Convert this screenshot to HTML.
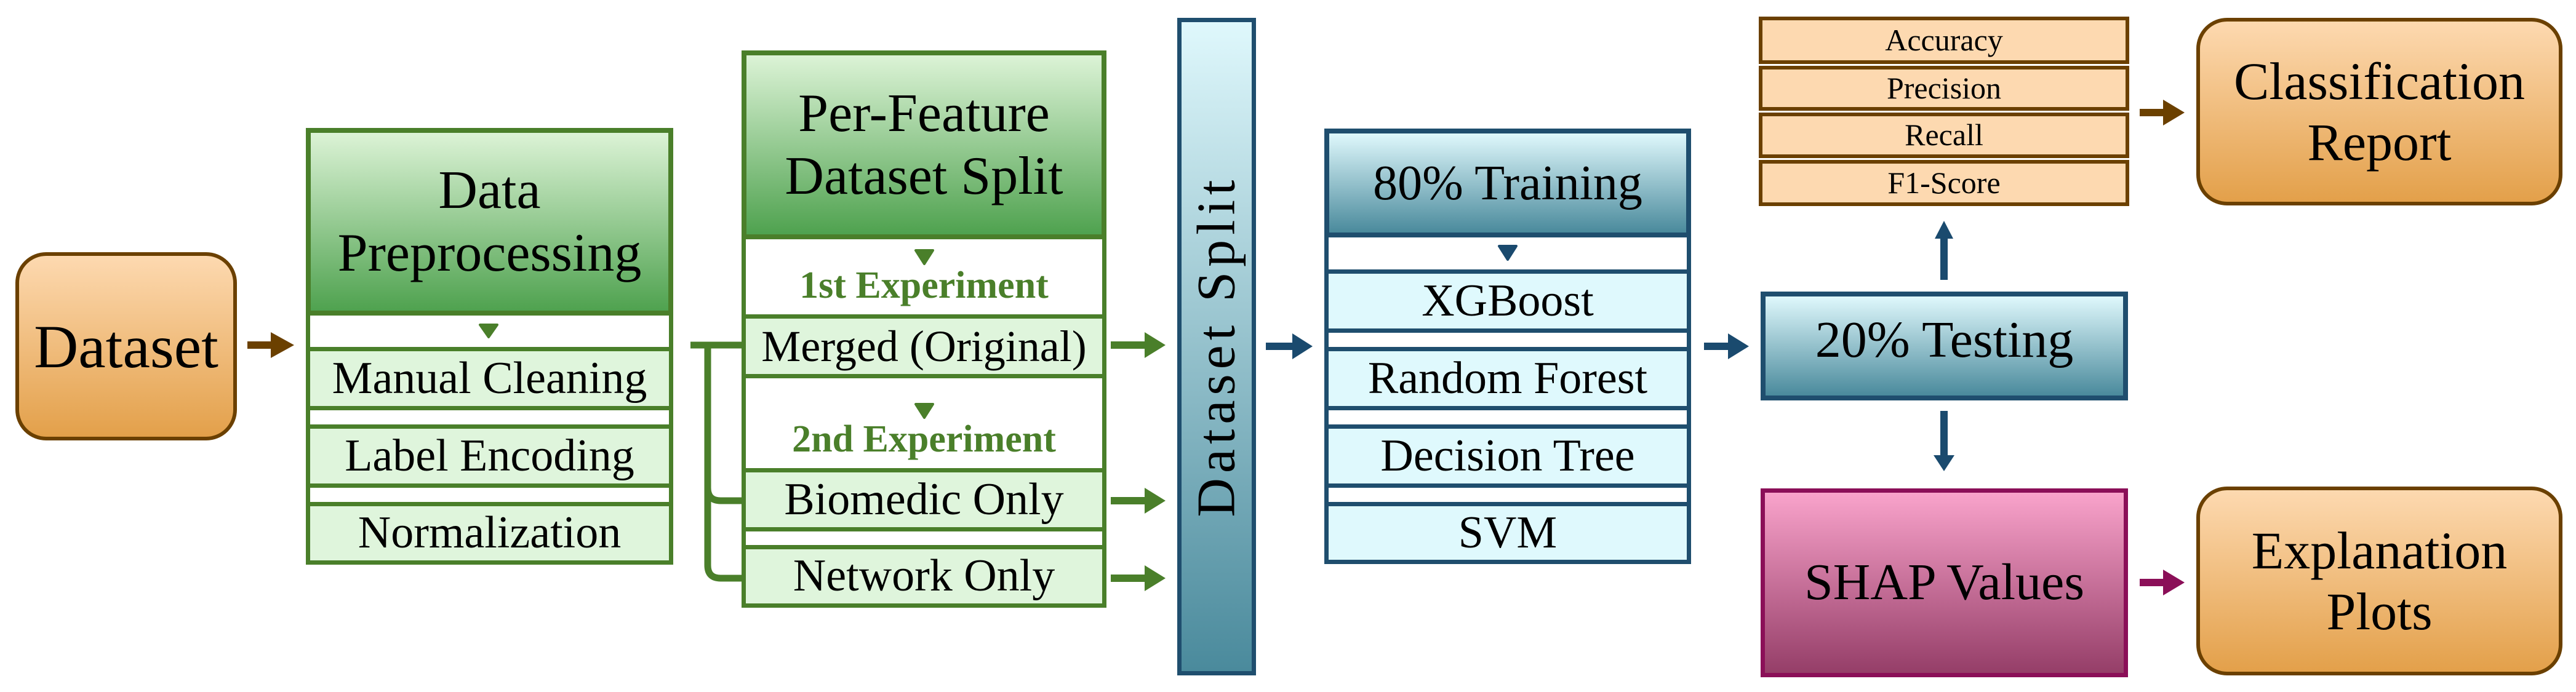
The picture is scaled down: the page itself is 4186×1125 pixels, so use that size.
<!DOCTYPE html>
<html><head><meta charset="utf-8"><style>
*{box-sizing:border-box;margin:0;padding:0}
body{width:4186px;height:1125px;background:#fff;position:relative;overflow:hidden;font-family:"Liberation Serif","Noto Serif CJK SC","DejaVu Serif",serif;color:#000}
.b{position:absolute;display:flex;align-items:center;justify-content:center;text-align:center;line-height:1.15;font-family:"Liberation Serif","Noto Serif CJK SC","DejaVu Serif",serif;white-space:nowrap}
.og{background:linear-gradient(#fdd9b0,#e3a04a);border:6px solid #6b4000;border-radius:50px}
.gh{background:linear-gradient(#dcf3d6,#4fa24f);border:8px solid #4a7f2a}
.gr{background:#dff5dc;border:7px solid #4a7f2a}
.gw{background:#fff;border:7px solid #4a7f2a}
.bh{background:linear-gradient(#dff8fc,#4a8a9c);border:8px solid #1f4e6e}
.br{background:#dff9fd;border:7px solid #1f4e6e}
.bw{background:#fff;border:7px solid #1f4e6e}
.mr{background:#fdd9b0;border:6px solid #6b4000}
.ge{color:#4a7f2a;font-weight:bold}
svg{position:absolute;left:0;top:0}
</style></head><body>

<div class="b og" style="left:25px;top:410px;width:360px;height:306px;font-size:100px">Dataset</div>

<div class="b gw" style="left:497px;top:208px;width:597px;height:710px"></div>
<div class="b gh" style="left:497px;top:208px;width:597px;height:305px;font-size:88px">Data<br>Preprocessing</div>
<div class="b gr" style="left:497px;top:564px;width:597px;height:103px;font-size:74px">Manual Cleaning</div>
<div class="b gr" style="left:497px;top:690px;width:597px;height:103px;font-size:74px">Label Encoding</div>
<div class="b gr" style="left:497px;top:816px;width:597px;height:102px;font-size:74px">Normalization</div>

<div class="b gw" style="left:1205px;top:82px;width:593px;height:906px"></div>
<div class="b gh" style="left:1205px;top:82px;width:593px;height:307px;font-size:88px">Per-Feature<br>Dataset Split</div>
<div class="b ge" style="left:1205px;top:420px;width:593px;height:90px;font-size:62px">1st Experiment</div>
<div class="b gr" style="left:1205px;top:511px;width:593px;height:104px;font-size:72px">Merged (Original)</div>
<div class="b ge" style="left:1205px;top:670px;width:593px;height:90px;font-size:62px">2nd Experiment</div>
<div class="b gr" style="left:1205px;top:761px;width:593px;height:103px;font-size:74px">Biomedic Only</div>
<div class="b gr" style="left:1205px;top:886px;width:593px;height:102px;font-size:74px">Network Only</div>

<div class="b" style="left:1913px;top:29px;width:128px;height:1069px;background:linear-gradient(#dff8fc,#4a8a9c);border:7px solid #1f4e6e"></div>
<div class="b" style="left:1977px;top:563px;width:0;height:0"><div style="transform:rotate(-90deg);white-space:nowrap;font-size:88px;letter-spacing:8px">Dataset Split</div></div>

<div class="b bw" style="left:2152px;top:209px;width:596px;height:708px"></div>
<div class="b bh" style="left:2152px;top:209px;width:596px;height:177px;font-size:80px">80% Training</div>
<div class="b br" style="left:2152px;top:438px;width:596px;height:103px;font-size:74px">XGBoost</div>
<div class="b br" style="left:2152px;top:564px;width:596px;height:103px;font-size:74px">Random Forest</div>
<div class="b br" style="left:2152px;top:690px;width:596px;height:103px;font-size:74px">Decision Tree</div>
<div class="b br" style="left:2152px;top:816px;width:596px;height:101px;font-size:74px">SVM</div>

<div class="b bh" style="left:2861px;top:474px;width:597px;height:177px;font-size:84px;padding-bottom:18px">20% Testing</div>

<div class="b mr" style="left:2858px;top:27px;width:602px;height:77px;font-size:50px">Accuracy</div>
<div class="b mr" style="left:2858px;top:107px;width:602px;height:73px;font-size:50px">Precision</div>
<div class="b mr" style="left:2858px;top:183px;width:602px;height:74px;font-size:50px">Recall</div>
<div class="b mr" style="left:2858px;top:260px;width:602px;height:75px;font-size:50px">F1-Score</div>

<div class="b og" style="left:3569px;top:29px;width:595px;height:305px;font-size:86px">Classification<br>Report</div>

<div class="b" style="left:2861px;top:794px;width:597px;height:307px;background:linear-gradient(#f9a3cb,#953e68);border:7px solid #8b0f58;font-size:84px">SHAP Values</div>
<div class="b og" style="left:3569px;top:791px;width:595px;height:307px;font-size:86px">Explanation<br>Plots</div>

<svg width="4186" height="1125" viewBox="0 0 4186 1125">
<g stroke-linejoin="round" stroke-linecap="round">
<path d="M780,528 L808,528 L794,548 Z" fill="#4a7f2a" stroke="#4a7f2a" stroke-width="4"/>
<path d="M1488,407 L1516,407 L1502,429 Z" fill="#4a7f2a" stroke="#4a7f2a" stroke-width="4"/>
<path d="M1488,657 L1516,657 L1502,679 Z" fill="#4a7f2a" stroke="#4a7f2a" stroke-width="4"/>
<path d="M2436,400 L2464,400 L2450,422 Z" fill="#1a4a6e" stroke="#1a4a6e" stroke-width="4"/>
</g>
<g fill="#6b4000"><rect x="402" y="555" width="40" height="12"/><path d="M440,540 L478,561 L440,582 Z"/></g>
<g fill="none" stroke="#4a7f2a" stroke-width="11">
<path d="M1122,561 L1205,561"/>
<path d="M1150,561 L1150,793 Q1150,814 1171,814 L1205,814"/>
<path d="M1150,790 L1150,919 Q1150,940 1171,940 L1205,940"/>
</g>
<g fill="#4a7f2a">
<rect x="1805" y="555" width="55" height="12"/><path d="M1860,540 L1894,561 L1860,582 Z"/>
<rect x="1805" y="808" width="55" height="12"/><path d="M1860,793 L1894,814 L1860,835 Z"/>
<rect x="1805" y="934" width="55" height="12"/><path d="M1860,919 L1894,940 L1860,961 Z"/>
</g>
<g fill="#1a4a6e">
<rect x="2057" y="557" width="45" height="12"/><path d="M2100,542 L2133,563 L2100,584 Z"/>
<rect x="2769" y="557" width="42" height="12"/><path d="M2808,542 L2842,563 L2808,584 Z"/>
<rect x="3153" y="385" width="12" height="70"/><path d="M3144,388 L3159,359 L3174,388 Z"/>
<rect x="3153" y="668" width="12" height="72"/><path d="M3142,740 L3159,766 L3176,740 Z"/>
</g>
<g fill="#6b4000"><rect x="3477" y="177" width="40" height="12"/><path d="M3515,162 L3550,183 L3515,204 Z"/></g>
<g fill="#8b0f58"><rect x="3477" y="941" width="40" height="12"/><path d="M3515,926 L3550,947 L3515,968 Z"/></g>
</svg>
</body></html>
